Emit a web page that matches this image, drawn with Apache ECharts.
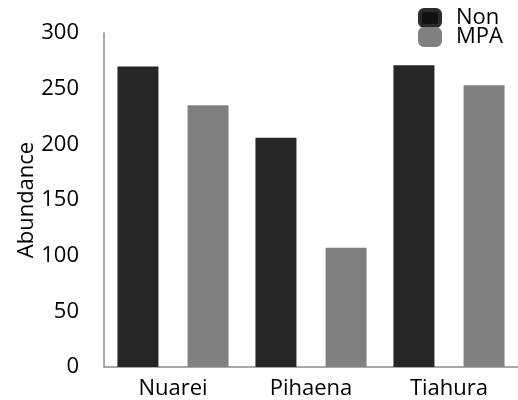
<!DOCTYPE html>
<html>
<head>
<meta charset="utf-8">
<script src="https://cdn.jsdelivr.net/npm/echarts@6/dist/echarts.min.js"></script>
<style>
  html, body { margin: 0; padding: 0; background: #fff; }
  #chart { width: 518px; height: 400px; }
</style>
</head>
<body>
<div id="chart"></div>
<script>
// Sites and abundance per protection status
const sites = ['Nuarei', 'Pihaena', 'Tiahura'];
const nonValues = [270, 206, 271];
const mpaValues = [235, 107, 253];
const yTicks = { min: 0, max: 300, interval: 50 };

const font = '"Open Sans", sans-serif';
const axisGrey = '#8c8c8c';

const chart = echarts.init(document.getElementById('chart'));
chart.setOption({
  animation: false,
  textStyle: { fontFamily: font },
  grid: { left: 104, top: 33, width: 422, height: 335, containLabel: false },
  legend: {
    orient: 'vertical',
    left: 413,
    top: 2,
    itemWidth: 20,
    itemHeight: 16,
    itemGap: -3,
    icon: 'roundRect',
    textStyle: { fontSize: 22, color: '#000', fontFamily: font, padding: [0, 0, 0, 11] },
    data: [
      { name: 'Non', itemStyle: { color: '#111111', borderColor: '#2b2b2b', borderWidth: 4 } },
      { name: 'MPA', itemStyle: { color: '#808080', borderColor: '#808080', borderWidth: 4 } }
    ]
  },
  xAxis: {
    type: 'category',
    data: sites,
    axisLine: { lineStyle: { color: axisGrey, width: 1.5 } },
    axisTick: { show: false },
    axisLabel: { fontSize: 22, color: '#000', fontFamily: font, margin: 11 }
  },
  yAxis: {
    type: 'value',
    min: yTicks.min,
    max: yTicks.max,
    interval: yTicks.interval,
    name: 'Abundance',
    nameLocation: 'middle',
    nameGap: 66,
    nameMoveOverlap: false,
    nameTextStyle: { fontSize: 22, color: '#000', fontFamily: font },
    axisLine: { show: true, lineStyle: { color: axisGrey, width: 1.5 } },
    axisTick: { show: false },
    splitLine: { show: false },
    axisLabel: { fontSize: 22, color: '#000', fontFamily: font, margin: 25 }
  },
  series: [
    {
      name: 'Non',
      type: 'bar',
      data: nonValues,
      barWidth: 41,
      barGap: '71%',
      itemStyle: { color: '#262626' }
    },
    {
      name: 'MPA',
      type: 'bar',
      data: mpaValues,
      barWidth: 41,
      itemStyle: { color: '#808080' }
    }
  ]
});
</script>
</body>
</html>
